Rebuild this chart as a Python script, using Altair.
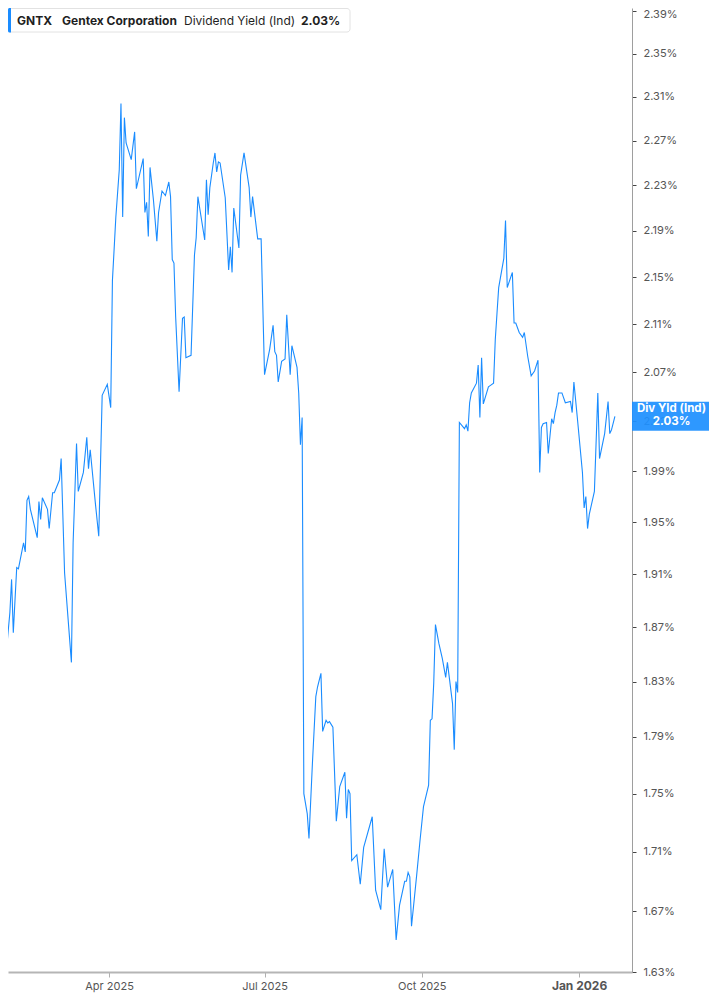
import altair as alt
import pandas as pd

# ---- text ----
ticker = "GNTX"
company = "Gentex Corporation"
metric_name = "Dividend Yield (Ind)"
metric_value = "2.03%"
badge_title = "Div Yld (Ind)"
badge_value = "2.03%"

# ---- series ----
dates_q1 = ["2025-01-27", "2025-01-28", "2025-01-29", "2025-01-30", "2025-01-31", "2025-02-02",
            "2025-02-03", "2025-02-04", "2025-02-06", "2025-02-07", "2025-02-10", "2025-02-11",
            "2025-02-12", "2025-02-13", "2025-02-14", "2025-02-18", "2025-02-19", "2025-02-20",
            "2025-02-21", "2025-02-24", "2025-02-25", "2025-02-27", "2025-02-28", "2025-03-03",
            "2025-03-04", "2025-03-06", "2025-03-10", "2025-03-11", "2025-03-13", "2025-03-14",
            "2025-03-17", "2025-03-19", "2025-03-20", "2025-03-21", "2025-03-24", "2025-03-26",
            "2025-03-28", "2025-03-31"]
yield_q1 = [1.684, 1.719, 1.724, 1.700, 1.853, 1.881, 1.906, 1.866, 1.915, 1.914, 1.934, 1.927,
            1.967, 1.970, 1.960, 1.938, 1.966, 1.952, 1.969, 1.960, 1.945, 1.973, 1.973, 1.983,
            2.000, 1.911, 1.844, 1.934, 2.012, 1.974, 1.989, 2.017, 1.992, 2.007, 1.965, 1.939,
            2.051, 2.060]

dates_q2 = ["2025-04-02", "2025-04-03", "2025-04-05", "2025-04-07", "2025-04-08", "2025-04-09",
            "2025-04-10", "2025-04-11", "2025-04-14", "2025-04-16", "2025-04-17", "2025-04-21",
            "2025-04-22", "2025-04-23", "2025-04-24", "2025-04-25", "2025-04-27", "2025-04-29",
            "2025-04-30", "2025-05-02", "2025-05-04", "2025-05-06", "2025-05-07", "2025-05-08",
            "2025-05-09", "2025-05-10", "2025-05-12", "2025-05-14", "2025-05-15", "2025-05-16",
            "2025-05-19", "2025-05-21", "2025-05-22", "2025-05-23", "2025-05-27", "2025-05-28",
            "2025-05-29", "2025-05-30", "2025-06-01", "2025-06-02", "2025-06-03", "2025-06-04",
            "2025-06-05", "2025-06-08", "2025-06-10", "2025-06-11", "2025-06-12", "2025-06-13",
            "2025-06-16", "2025-06-17", "2025-06-19", "2025-06-22", "2025-06-23", "2025-06-24",
            "2025-06-27", "2025-06-29"]
yield_q2 = [2.041, 2.147, 2.202, 2.244, 2.304, 2.202, 2.291, 2.268, 2.253, 2.278, 2.227, 2.254,
            2.206, 2.215, 2.185, 2.246, 2.217, 2.181, 2.206, 2.225, 2.221, 2.233, 2.220, 2.165,
            2.162, 2.116, 2.054, 2.115, 2.116, 2.082, 2.084, 2.169, 2.184, 2.220, 2.182, 2.235,
            2.204, 2.228, 2.250, 2.259, 2.242, 2.251, 2.250, 2.219, 2.156, 2.176, 2.154, 2.210,
            2.175, 2.239, 2.259, 2.228, 2.202, 2.220, 2.183, 2.183]

dates_q3 = ["2025-07-01", "2025-07-04", "2025-07-06", "2025-07-07", "2025-07-08", "2025-07-09",
            "2025-07-11", "2025-07-13", "2025-07-14", "2025-07-16", "2025-07-17", "2025-07-20",
            "2025-07-21", "2025-07-22", "2025-07-23", "2025-07-24", "2025-07-26", "2025-07-27",
            "2025-07-29", "2025-07-31", "2025-08-01", "2025-08-03", "2025-08-04", "2025-08-06",
            "2025-08-07", "2025-08-08", "2025-08-10", "2025-08-12", "2025-08-14", "2025-08-17",
            "2025-08-18", "2025-08-19", "2025-08-20", "2025-08-21", "2025-08-24", "2025-08-26",
            "2025-08-28", "2025-09-02", "2025-09-04", "2025-09-07", "2025-09-09", "2025-09-11",
            "2025-09-14", "2025-09-16", "2025-09-18", "2025-09-21", "2025-09-22", "2025-09-23",
            "2025-09-24", "2025-09-25", "2025-09-28", "2025-09-30"]
yield_q3 = [2.068, 2.089, 2.109, 2.087, 2.084, 2.062, 2.079, 2.081, 2.118, 2.068, 2.092, 2.074,
            2.053, 2.011, 2.033, 1.750, 1.736, 1.719, 1.771, 1.819, 1.826, 1.836, 1.794, 1.802,
            1.800, 1.801, 1.797, 1.731, 1.755, 1.765, 1.733, 1.753, 1.750, 1.704, 1.708, 1.688,
            1.713, 1.734, 1.684, 1.671, 1.712, 1.686, 1.698, 1.651, 1.674, 1.690, 1.690, 1.696,
            1.693, 1.660, 1.694, 1.718]

dates_q4 = ["2025-10-02", "2025-10-05", "2025-10-06", "2025-10-07", "2025-10-08", "2025-10-09",
            "2025-10-11", "2025-10-13", "2025-10-15", "2025-10-16", "2025-10-19", "2025-10-20",
            "2025-10-21", "2025-10-22", "2025-10-23", "2025-10-26", "2025-10-27", "2025-10-28",
            "2025-10-29", "2025-10-30", "2025-11-02", "2025-11-03", "2025-11-04", "2025-11-05",
            "2025-11-06", "2025-11-09", "2025-11-10", "2025-11-12", "2025-11-13", "2025-11-14",
            "2025-11-15", "2025-11-18", "2025-11-19", "2025-11-20", "2025-11-23", "2025-11-24",
            "2025-11-25", "2025-11-27", "2025-11-29", "2025-11-30", "2025-12-02", "2025-12-04",
            "2025-12-06", "2025-12-08", "2025-12-09", "2025-12-10", "2025-12-11", "2025-12-13",
            "2025-12-14", "2025-12-16", "2025-12-17", "2025-12-18", "2025-12-19", "2025-12-20",
            "2025-12-22", "2025-12-24", "2025-12-27", "2025-12-28", "2025-12-29", "2025-12-31"]
yield_q4 = [1.741, 1.756, 1.802, 1.803, 1.829, 1.872, 1.858, 1.847, 1.833, 1.844, 1.814, 1.781,
            1.830, 1.822, 2.029, 2.024, 2.027, 2.022, 2.045, 2.053, 2.061, 2.076, 2.033, 2.082,
            2.044, 2.058, 2.059, 2.061, 2.097, 2.119, 2.141, 2.166, 2.199, 2.141, 2.154, 2.111,
            2.111, 2.103, 2.099, 2.103, 2.083, 2.067, 2.071, 2.080, 1.989, 2.025, 2.028, 2.029,
            2.004, 2.032, 2.028, 2.037, 2.043, 2.053, 2.053, 2.045, 2.046, 2.037, 2.062, 2.033]

dates_q5 = ["2026-01-03", "2026-01-04", "2026-01-05", "2026-01-06", "2026-01-07", "2026-01-10",
            "2026-01-12", "2026-01-13", "2026-01-16", "2026-01-18", "2026-01-19", "2026-01-20",
            "2026-01-22"]
yield_q5 = [1.989, 1.961, 1.970, 1.945, 1.956, 1.974, 2.053, 2.000, 2.020, 2.046, 2.020, 2.023,
            2.034]

y_ticks = [1.63, 1.67, 1.71, 1.75, 1.79, 1.83, 1.87, 1.91, 1.95, 1.99,
           2.03, 2.07, 2.11, 2.15, 2.19, 2.23, 2.27, 2.31, 2.35, 2.39]
x_ticks = [(2025, 4), (2025, 7), (2025, 10), (2026, 1)]

dates = dates_q1 + dates_q2 + dates_q3 + dates_q4 + dates_q5
yields = yield_q1 + yield_q2 + yield_q3 + yield_q4 + yield_q5
df = pd.DataFrame({"date": dates, "yld": yields})
last = df.tail(1)
hdr = pd.DataFrame({"k": [0]})

BLUE = "#1a8cff"
BADGE = "#1e90ff"
FONT = "Inter"
W, H = 624, 964
RIGHT = 77

is_jan = "utcmonth(datum.value) == 0"
x_scale = alt.Scale(
    type="utc",
    domain=[alt.DateTime(year=2025, month=1, date=31, hours=21, minutes=36, utc=True),
            alt.DateTime(year=2026, month=2, date=1, utc=True)],
)
x_axis = alt.Axis(
    values=[alt.DateTime(year=yy, month=mm, date=1, utc=True) for yy, mm in x_ticks],
    labelExpr="utcFormat(datum.value, '%b %Y')",
    labelFontWeight={"condition": {"test": is_jan, "value": "bold"}, "value": "normal"},
    labelFontSize={"condition": {"test": is_jan, "value": 12}, "value": 11},
    labelPadding=3,
    labelColor="#555",
    tickSize=5,
    tickColor="#b0b0b0",
    domainColor="#b5b5b5",
    domainWidth=2,
    grid=False,
    labelFlush=False,
    labelOverlap=False,
    title=None,
)
y_scale = alt.Scale(type="log", domain=[1.63, 2.3933], nice=False)
y_axis = alt.Axis(
    orient="right",
    values=y_ticks,
    labelExpr="format(datum.value, '.2f') + '%'",
    labelOffset={"condition": {"test": "datum.value > 2.38", "value": 3}, "value": 0},
    labelColor="#555",
    labelFontSize=11,
    labelPadding=7,
    tickSize=4,
    tickColor="#444",
    domainColor="#9e9e9e",
    grid=False,
    labelOverlap=False,
    labelFlush=False,
    title=None,
)
y_enc = alt.Y("yld:Q", scale=y_scale, axis=y_axis, title=None)

line = alt.Chart(df).mark_line(color=BLUE, strokeWidth=1.1, clip=True).encode(
    x=alt.X("date:T", scale=x_scale, axis=x_axis, title=None),
    y=y_enc,
)

half = RIGHT / 2
badge = alt.Chart(last).mark_point(
    shape="M-1,-0.377H1V0.377H-1Z", size=RIGHT * RIGHT, filled=True, color=BADGE, opacity=0.93,
    strokeWidth=0
).encode(x=alt.value(W + half), y=y_enc)
badge_t1 = alt.Chart(last).mark_text(
    text=badge_title, color="white", font=FONT, fontSize=11.5, fontWeight="bold", align="center", dy=-7
).encode(x=alt.value(W + half + 1), y=y_enc)
badge_t2 = alt.Chart(last).mark_text(
    text=badge_value, color="white", font=FONT, fontSize=11.5, fontWeight="bold", align="center", dy=6
).encode(x=alt.value(W + half + 1), y=y_enc)

box = alt.Chart(hdr).mark_rect(fill="white", stroke="#e2e2e2", strokeWidth=1, cornerRadius=3).encode(
    x=alt.value(0.5), x2=alt.value(342), y=alt.value(0.5), y2=alt.value(24)
)
bar = alt.Chart(hdr).mark_rect(fill=BLUE, cornerRadiusTopLeft=2, cornerRadiusBottomLeft=2).encode(
    x=alt.value(0), x2=alt.value(3), y=alt.value(0), y2=alt.value(24.5)
)

def head_text(txt, xpos, weight):
    return alt.Chart(hdr).mark_text(
        text=txt, align="left", baseline="middle", font=FONT, fontSize=12,
        fontWeight=weight, color="#1f1f1f"
    ).encode(x=alt.value(xpos), y=alt.value(12.5))

t1 = head_text(ticker, 9, "bold")
t2 = head_text(company, 54, "bold")
t3 = head_text(metric_name, 176, "normal")
t4 = head_text(metric_value, 293, "bold")

chart = alt.layer(line, badge, badge_t1, badge_t2, box, bar, t1, t2, t3, t4).properties(
    width=W,
    height=H,
    autosize=alt.AutoSizeParams(type="none"),
    padding={"left": 0, "top": 0, "right": RIGHT, "bottom": 22},
).configure_view(stroke=None).configure_axis(labelFont=FONT)

chart.save("out.html", embed_options={"renderer": "svg", "actions": False})
